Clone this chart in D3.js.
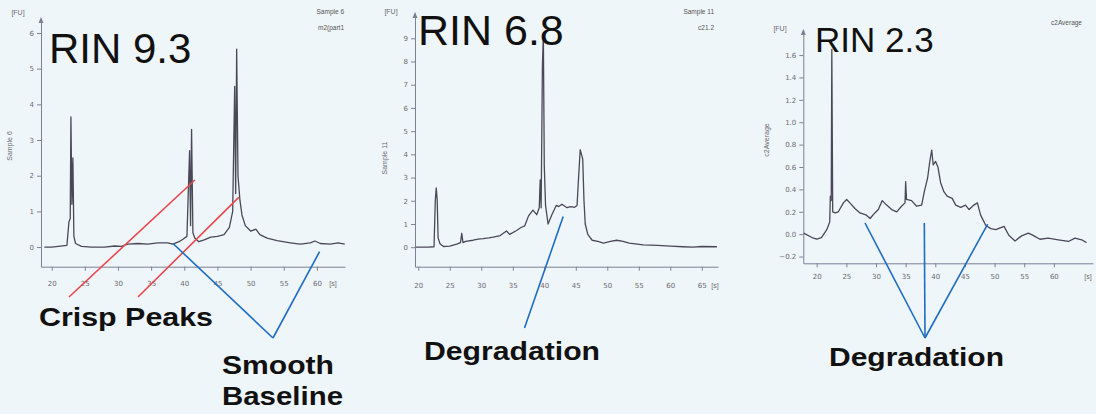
<!DOCTYPE html>
<html>
<head>
<meta charset="utf-8">
<script src="https://cdn.jsdelivr.net/npm/d3@7"></script>
<style>
  html, body { margin: 0; padding: 0; background: #eff6f9; }
  svg { display: block; font-family: "Liberation Sans", Arial, Helvetica, sans-serif; }
</style>
</head>
<body>
<svg id="chart" width="1096" height="414"></svg>
<script>
// Electropherogram traces: [migration time (s), fluorescence (FU)]
const traceRin93 = [
  [18.9,0.0],[20.0,0.0],[21.0,0.02],[22.3,0.05],[22.6,0.7],[22.8,0.8],[22.9,3.65],[23.05,1.2],[23.2,2.5],
  [23.35,0.3],[23.6,0.1],[24.5,0.02],[26.0,0.0],[28.0,0.0],[29.5,0.03],[30.5,0.02],[31.5,0.08],[33.0,0.1],
  [34.5,0.08],[36.0,0.12],[37.5,0.12],[38.3,0.08],[39.2,0.15],[39.8,0.22],[40.4,0.3],[40.8,2.7],[40.95,0.6],
  [41.1,3.3],[41.3,0.4],[41.6,0.25],[42.2,0.15],[43.0,0.2],[44.0,0.28],[45.0,0.3],[46.0,0.35],[46.8,0.55],
  [47.3,1.0],[47.6,4.5],[47.75,1.5],[47.9,5.55],[48.1,2.0],[48.4,1.3],[48.7,0.9],[49.2,0.6],[50.0,0.45],
  [50.8,0.5],[51.4,0.35],[52.5,0.25],[54.0,0.18],[56.0,0.12],[57.5,0.08],[59.0,0.12],[59.7,0.17],[60.5,0.1],
  [62.0,0.08],[63.2,0.12],[64.2,0.08]
];
const traceRin68 = [
  [19.6,0.0],[21.5,0.0],[22.5,0.02],[22.7,2.0],[22.85,2.55],[23.0,2.05],[23.15,0.4],[23.45,0.15],[24.0,0.03],
  [25.0,0.05],[26.1,0.13],[26.7,0.2],[26.9,0.6],[27.1,0.2],[27.5,0.25],[28.7,0.3],[29.5,0.35],[30.3,0.37],
  [31.2,0.4],[31.9,0.43],[33.0,0.5],[34.0,0.7],[34.5,0.55],[35.6,0.72],[36.3,0.85],[36.9,0.92],[37.5,1.35],
  [38.2,1.6],[38.8,1.4],[39.2,1.7],[39.35,2.9],[39.5,1.7],[39.7,7.8],[39.85,9.2],[40.0,3.5],[40.2,1.8],
  [40.6,1.0],[41.2,1.4],[41.9,1.8],[42.3,1.75],[42.8,1.85],[43.6,1.7],[44.2,1.75],[44.8,1.72],[45.2,1.8],
  [45.4,2.8],[45.55,3.5],[45.7,4.2],[45.9,4.0],[46.1,3.8],[46.3,2.0],[46.5,1.0],[46.9,0.55],[47.6,0.3],
  [48.5,0.25],[49.4,0.18],[50.5,0.25],[51.5,0.3],[52.5,0.25],[53.5,0.18],[55.7,0.1],[58.0,0.08],[60.0,0.05],
  [62.0,0.02],[63.6,0.0],[65.0,0.03],[67.4,0.02]
];
const traceRin23 = [
  [17.8,0.01],[19.2,-0.03],[20.0,-0.045],[20.8,-0.03],[21.7,0.04],[22.2,0.11],[22.3,0.34],[22.45,0.3],
  [22.55,1.65],[22.7,0.2],[23.1,0.19],[23.65,0.2],[24.5,0.28],[25.05,0.31],[25.6,0.28],[26.45,0.23],
  [27.3,0.19],[28.4,0.17],[29.0,0.14],[29.8,0.19],[30.4,0.22],[31.05,0.3],[31.8,0.26],[32.65,0.22],
  [33.5,0.2],[34.3,0.25],[34.9,0.28],[35.0,0.47],[35.15,0.31],[36.0,0.3],[36.85,0.25],[37.7,0.26],
  [38.15,0.38],[38.7,0.5],[39.1,0.66],[39.4,0.75],[39.65,0.62],[40.05,0.65],[40.45,0.6],[40.9,0.46],
  [41.45,0.38],[42.0,0.34],[42.85,0.32],[43.45,0.26],[44.3,0.24],[45.1,0.26],[45.7,0.22],[46.5,0.26],
  [47.1,0.28],[47.65,0.17],[48.5,0.08],[49.35,0.05],[50.2,0.04],[51.6,0.07],[52.4,-0.01],[53.45,-0.06],
  [54.55,-0.015],[55.7,0.01],[56.5,-0.01],[57.65,-0.045],[59.05,-0.035],[60.75,-0.05],[62.45,-0.065],
  [63.55,-0.035],[64.7,-0.05],[65.5,-0.075]
];

const rinLabels = ["RIN 9.3", "RIN 6.8", "RIN 2.3"];
const sampleLines = [["Sample 6", "m2(part1"], ["Sample 11", "c21.2"], ["c2Average"]];
const yTitles = ["Sample 6", "Sample 11", "c2Average"];
const xTicks93 = [20, 25, 30, 35, 40, 45, 50, 55, 60];
const xTicks68 = [20, 25, 30, 35, 40, 45, 50, 55, 60, 65];
const xTicks23 = [20, 25, 30, 35, 40, 45, 50, 55, 60];
const yTicks93 = [0, 1, 2, 3, 4, 5, 6];
const yTicks68 = [0, 1, 2, 3, 4, 5, 6, 7, 8, 9];
const yTicks23 = [-0.2, 0, 0.2, 0.4, 0.6, 0.8, 1.0, 1.2, 1.4, 1.6];

// Leader-line anchors on each trace: [time (s), FU]
const crispPeakAnchors = [[41.6, 1.88], [48.25, 1.4]];
const baselineAnchors = [[38.3, 0.1], [60.4, -0.13]];
const degradationAnchors68 = [[43.0, 1.32]];
const degradationAnchors23 = [[28.15, 0.1], [38.15, 0.1], [48.84, 0.09]];

const RED = "#e8484e", BLUE = "#1f6dc2", AXIS = "#7d8196", TRACE = "#4a4858", TICKTXT = "#6a6a72";

const panels = [
  { data: traceRin93, rin: rinLabels[0], sample: sampleLines[0], yTitle: yTitles[0],
    xTicks: xTicks93, yTicks: yTicks93, fmt: d3.format("d"),
    left: 41, right: 345, top: 18, bottom: 266.7, xDomain: [18.39, 64.24], yDomain: [-0.55, 6.42],
    xPad: 10, sX: 333, rinX: 49, rinY: 63, rinSize: 42, titleX: 12, titleY: 146,
    fuX: 18, fuY: 15, sampleX: 344, sampleY: [14, 30] },
  { data: traceRin68, rin: rinLabels[1], sample: sampleLines[1], yTitle: yTitles[1],
    xTicks: xTicks68, yTicks: yTicks68, fmt: d3.format("d"),
    left: 415, right: 718, top: 13, bottom: 266.7, xDomain: [19.48, 67.57], yDomain: [-0.84, 10.09],
    xPad: 12, sX: 715, rinX: 418, rinY: 45, rinSize: 43, titleX: 387, titleY: 158,
    fuX: 391, fuY: 14, sampleX: 714, sampleY: [14, 30] },
  { data: traceRin23, rin: rinLabels[2], sample: sampleLines[2], yTitle: yTitles[2],
    xTicks: xTicks23, yTicks: yTicks23, fmt: d3.format(".1f"),
    left: 803.3, right: 1093, top: 30, bottom: 263.3, xDomain: [17.74, 66.6], yDomain: [-0.26, 1.824],
    xPad: 7, sX: 1088, rinX: 815, rinY: 52, rinSize: 35, titleX: 769, titleY: 140,
    fuX: 780, fuY: 31, sampleX: 1082, sampleY: [25] }
];

const svg = d3.select("#chart");

panels.forEach(p => {
  p.x = d3.scaleLinear().domain(p.xDomain).range([p.left, p.right]);
  p.y = d3.scaleLinear().domain(p.yDomain).range([p.bottom, p.top]);
  const g = svg.append("g");

  // axes
  const ya = g.append("g").attr("transform", `translate(${p.left},0)`)
    .call(d3.axisLeft(p.y).tickValues(p.yTicks).tickFormat(p.fmt).tickSize(4).tickSizeOuter(0).tickPadding(3));
  const xa = g.append("g").attr("transform", `translate(0,${p.bottom})`)
    .call(d3.axisBottom(p.x).tickValues(p.xTicks).tickFormat(d3.format("d")).tickSize(4).tickSizeOuter(0).tickPadding(p.xPad));
  [ya, xa].forEach(a => {
    a.select(".domain").attr("stroke", AXIS).attr("stroke-width", 1);
    a.selectAll(".tick line").attr("stroke", AXIS);
    a.selectAll(".tick text").attr("fill", TICKTXT).style("font-size", "7px")
      .style("font-family", "'DejaVu Sans', sans-serif");
  });

  // arrow at top of the y axis
  g.append("path")
    .attr("d", `M${p.left - 2.5},${p.top + 5} L${p.left},${p.top - 1} L${p.left + 2.5},${p.top + 5} Z`)
    .attr("fill", AXIS);

  // unit labels
  g.append("text").attr("x", p.fuX).attr("y", p.fuY).attr("text-anchor", "middle")
    .attr("fill", TICKTXT).style("font-size", "7px").text("[FU]");
  g.append("text").attr("x", p.sX).attr("y", p.bottom + 4 + p.xPad + 5)
    .attr("text-anchor", "middle").attr("fill", TICKTXT).style("font-size", "7px").text("[s]");

  // rotated y-axis title
  g.append("text").attr("transform", `translate(${p.titleX},${p.titleY}) rotate(-90)`)
    .attr("text-anchor", "middle").attr("fill", TICKTXT).style("font-size", "7px").text(p.yTitle);

  // sample name in the corner
  p.sample.forEach((s, i) => {
    g.append("text").attr("x", p.sampleX).attr("y", p.sampleY[i]).attr("text-anchor", "end")
      .attr("fill", "#555").style("font-size", "6.5px").text(s);
  });

  // trace
  g.append("path").datum(p.data)
    .attr("d", d3.line().x(d => p.x(d[0])).y(d => p.y(d[1])))
    .attr("fill", "none").attr("stroke", TRACE).attr("stroke-width", 1.3)
    .attr("stroke-linejoin", "round");

  // RIN heading
  g.append("text").attr("x", p.rinX).attr("y", p.rinY).attr("fill", "#111")
    .style("font-size", p.rinSize + "px").text(p.rin);
});

// annotation leaders and captions
function leader(p, anchor, tx, ty, color) {
  svg.append("line")
    .attr("x1", p.x(anchor[0])).attr("y1", p.y(anchor[1]))
    .attr("x2", tx).attr("y2", ty)
    .attr("stroke", color).attr("stroke-width", 1.6);
}
const [p1, p2, p3] = panels;
leader(p1, crispPeakAnchors[0], 69, 297, RED);
leader(p1, crispPeakAnchors[1], 138, 297, RED);
baselineAnchors.forEach(a => leader(p1, a, 273, 338, BLUE));
degradationAnchors68.forEach(a => leader(p2, a, 524.5, 328, BLUE));
degradationAnchors23.forEach(a => leader(p3, a, 925, 338, BLUE));

const captions = [
  { text: "Crisp Peaks", x: 39, y: 326, w: 174 },
  { text: "Smooth", x: 222, y: 374, w: 112 },
  { text: "Baseline", x: 222, y: 405, w: 121 },
  { text: "Degradation", x: 424, y: 360, w: 176 },
  { text: "Degradation", x: 829, y: 366, w: 175 }
];
svg.selectAll("text.caption").data(captions).join("text")
  .attr("class", "caption")
  .attr("x", d => d.x).attr("y", d => d.y)
  .attr("textLength", d => d.w).attr("lengthAdjust", "spacingAndGlyphs")
  .attr("fill", "#111").style("font-size", "25px").style("font-weight", "bold")
  .text(d => d.text);
</script>
</body>
</html>
